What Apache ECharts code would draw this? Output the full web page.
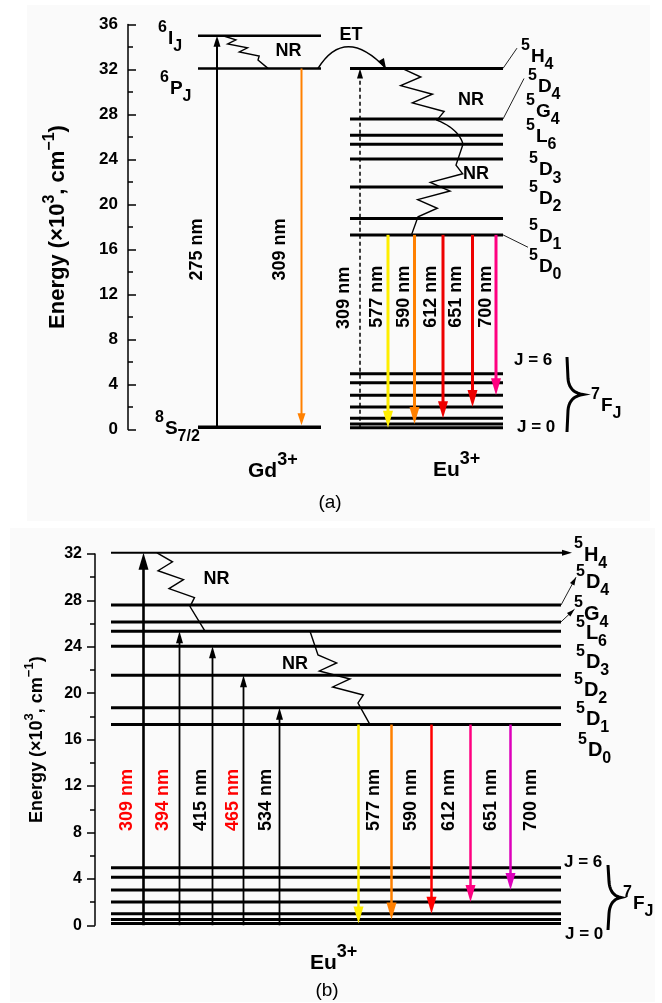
<!DOCTYPE html>
<html><head><meta charset="utf-8">
<script src="https://cdn.jsdelivr.net/npm/echarts@6/dist/echarts.min.js"></script>
<style>html,body{margin:0;padding:0;background:#fff}#c{width:662px;height:1003px}</style>
</head><body><div id="c"></div>
<script>
// ================= DATA (energies in 10^3 cm^-1) =================
const gdLevelNames = ['8S7/2', '6PJ', '6IJ'];
const gdLevels = [0.2, 32.1, 35.0];
const euUpperNames = ['5D0', '5D1', '5D2', '5D3', '5L6', '5G4', '5D4', '5H4'];
const euUpperLevels = [17.3, 18.75, 21.55, 24.05, 25.35, 26.15, 27.6, 32.1];
const euGroundNames = ['7F0', '7F1', '7F2', '7F3', '7F4', '7F5', '7F6'];
const euGroundLevels = [0.15, 0.5, 1.0, 2.0, 3.05, 4.15, 4.95];
const emissionLabels = ['577 nm', '590 nm', '612 nm', '651 nm', '700 nm'];
const emissionFinal = [0, 1, 2, 3, 4];            // index into euGroundLevels (from 5D0)
const gdExcitationLabel = '275 nm';               // 8S7/2 -> 6IJ
const gdEmissionLabel = '309 nm';                 // 6PJ -> 8S7/2
const euExcitationLabelA = '309 nm';              // 7F0 -> 5H4
const excitationLabelsB = ['309 nm', '394 nm', '415 nm', '465 nm', '534 nm'];
const excitationTargetB = [7, 4, 3, 2, 1];        // index into euUpperLevels
const excitationRedB = [true, true, false, true, false];
const axisMaxA = 36, axisMaxB = 32, tickStep = 4;

// ================= STYLE / LAYOUT =================
const FONT = '"Liberation Sans", Arial, Helvetica, sans-serif';
const colorsA = ['#ffee00', '#ff8000', '#ee0000', '#ee0000', '#ff0080'];
const colorsB = ['#ffee00', '#ff8000', '#ff0000', '#ff0080', '#dd00bb'];
const cv = document.createElement('canvas').getContext('2d');
function tw(t, size, w) { cv.font = (w || 'bold') + ' ' + size + 'px ' + FONT; return cv.measureText(t).width; }

const A = { left: 128, top: 24.5, width: 522, height: 405 };
const B = { left: 95, top: 554, width: 555, height: 371.3 };

// ---- panel A element specs ----
const specsA = [];
gdLevels.forEach((e, i) => specsA.push({ t: 'level', x0: 198, x1: 321, e, lw: i === 0 ? 3.5 : 2.5 }));
euUpperLevels.forEach(e => specsA.push({ t: 'level', x0: 350, x1: 503, e, lw: 3 }));
euGroundLevels.forEach(e => specsA.push({ t: 'level', x0: 350, x1: 503, e, lw: 3 }));
specsA.push({ t: 'arrow', x: 217, e0: gdLevels[0], e1: gdLevels[2], color: '#000', lw: 2, hw: 7, hl: 11 });
specsA.push({ t: 'arrow', x: 301.5, e0: gdLevels[1], e1: gdLevels[0], color: '#ff8000', lw: 2, hw: 8, hl: 12, pad: 2 });
specsA.push({ t: 'arrow', x: 360, e0: euGroundLevels[0], e1: euUpperLevels[7], color: '#000', lw: 1.5, hw: 6, hl: 10, dash: [4, 3] });
const emXA = [388, 414.5, 443, 472.5, 496];
emissionFinal.forEach((j, k) => specsA.push({ t: 'arrow', x: emXA[k], e0: euUpperLevels[0], e1: euGroundLevels[j], color: colorsA[k], lw: 3, hw: 10, hl: 17 }));
specsA.push({ t: 'vtext', x: 197.5, e: 16, text: gdExcitationLabel, color: '#000' });
specsA.push({ t: 'vtext', x: 280, e: 16, text: gdEmissionLabel, color: '#000' });
specsA.push({ t: 'vtext', x: 344, e: 11.7, text: euExcitationLabelA, color: '#000' });
const emLXA = [377.5, 404, 431, 456, 486.5];
emissionLabels.forEach((l, k) => specsA.push({ t: 'vtext', x: emLXA[k], e: 11.8, text: l, color: '#000' }));
specsA.push({ t: 'path', start: [223, gdLevels[2]], segs: [{ k: 'zig', to: [258, 32.84], n: 3, amp: 7 }, { k: 'line', to: [268, gdLevels[1]] }] });
specsA.push({ t: 'path', start: [402, euUpperLevels[7]], segs: [
  { k: 'zig', to: [437, 27.5], n: 3, amp: 13 },
  { k: 'curve', c: [459, 26.7], to: [463, euUpperLevels[4]] },
  { k: 'line', to: [456, 23.5] },
  { k: 'zig', to: [418, 18.9], n: 3, amp: 13 },
  { k: 'line', to: [411.5, euUpperLevels[0]] }] });
specsA.push({ t: 'curve', p0: [318, gdLevels[1]], c: [345, 35.96], p1: [386, euUpperLevels[7]], hw: 7, hl: 10 });
specsA.push({ t: 'seg', p0: [503, euUpperLevels[7]], p1: [517, 33.9] });
specsA.push({ t: 'seg', p0: [503, euUpperLevels[6]], p1: [524, 31.2] });
specsA.push({ t: 'seg', p0: [503, euUpperLevels[0]], p1: [528, 16.2] });

// ---- panel B element specs ----
const specsB = [];
euUpperLevels.forEach((e, i) => specsB.push(i === 7
  ? { t: 'level', x0: 111, x1: 572, e, lw: 2, head: true }
  : { t: 'level', x0: 111, x1: 561, e, lw: 3 }));
euGroundLevels.forEach(e => specsB.push({ t: 'level', x0: 111, x1: 561, e, lw: 3 }));
const exXB = [143.5, 179.5, 212.5, 243.5, 279.5];
excitationTargetB.forEach((ti, k) => specsB.push({ t: 'arrow', x: exXB[k], e0: 0, e1: euUpperLevels[ti], color: '#000', lw: k === 0 ? 2.6 : 1.8, hw: k === 0 ? 10 : 7, hl: k === 0 ? 17 : 12 }));
const emXB = [358.5, 391.5, 431.5, 470.5, 510.5];
emissionFinal.forEach((j, k) => specsB.push({ t: 'arrow', x: emXB[k], e0: euUpperLevels[0], e1: euGroundLevels[j], color: colorsB[k], lw: 2.5, hw: 10, hl: 17 }));
const exLXB = [127, 163.5, 201, 233.5, 266.5];
excitationLabelsB.forEach((l, k) => specsB.push({ t: 'vtext', x: exLXB[k], e: 10.8, text: l, color: excitationRedB[k] ? '#ff0000' : '#000' }));
const emLXB = [374, 411, 449, 491, 531];
emissionLabels.forEach((l, k) => specsB.push({ t: 'vtext', x: emLXB[k], e: 10.8, text: l, color: '#000' }));
specsB.push({ t: 'path', start: [157, euUpperLevels[7]], segs: [{ k: 'zig', to: [190, 27.47], n: 3, amp: 10 }, { k: 'line', to: [205, euUpperLevels[4]] }] });
specsB.push({ t: 'path', start: [310, euUpperLevels[4]], segs: [{ k: 'line', to: [318, 23.3] }, { k: 'zig', to: [358, 19.16], n: 3, amp: 12 }, { k: 'line', to: [370, euUpperLevels[0]] }] });
specsB.push({ t: 'seg', p0: [561, euUpperLevels[6]], p1: [576, 30.0], head: true });
specsB.push({ t: 'seg', p0: [561, euUpperLevels[5]], p1: [574.5, 27.24], head: true });

function head(tip, dir, w, h, color) {
  const px = -dir[1], py = dir[0];
  const bx = tip[0] - dir[0] * h, by = tip[1] - dir[1] * h;
  return { type: 'polygon', shape: { points: [[tip[0], tip[1]], [bx + px * w / 2, by + py * w / 2], [bx - px * w / 2, by - py * w / 2]] }, style: { fill: color, stroke: null } };
}
function norm(v) { const l = Math.hypot(v[0], v[1]); return [v[0] / l, v[1] / l]; }

function makeRender(specs) {
  return function (params, api) {
    const s = specs[params.dataIndex];
    const P = (x, e) => api.coord([x, e]);
    const ch = [];
    if (s.t === 'level') {
      const a = P(s.x0, s.e), b = P(s.x1, s.e);
      ch.push({ type: 'line', shape: { x1: a[0], y1: a[1], x2: s.head ? b[0] - 6 : b[0], y2: b[1] }, style: { stroke: '#000', lineWidth: s.lw } });
      if (s.head) ch.push(head(b, [1, 0], 6, 10, '#000'));
    } else if (s.t === 'arrow') {
      const a = P(s.x, s.e0), b = P(s.x, s.e1);
      if (s.pad) b[1] -= s.pad;
      const d = b[1] > a[1] ? 1 : -1;
      ch.push({ type: 'line', shape: { x1: a[0], y1: a[1], x2: b[0], y2: b[1] - d * (s.hl - 2) }, style: { stroke: s.color, lineWidth: s.lw, lineDash: s.dash || null } });
      ch.push(head(b, [0, d], s.hw, s.hl, s.color));
    } else if (s.t === 'vtext') {
      const p = P(s.x, s.e);
      ch.push({ type: 'text', x: p[0], y: p[1], rotation: Math.PI / 2, style: { text: s.text, font: 'bold 18px ' + FONT, fill: s.color, align: 'center', verticalAlign: 'middle', textAlign: 'center', textVerticalAlign: 'middle' } });
    } else if (s.t === 'path') {
      let cur = P(s.start[0], s.start[1]);
      const pts = [cur];
      s.segs.forEach(g => {
        const to = P(g.to[0], g.to[1]);
        if (g.k === 'zig') {
          for (let i = 1; i < 2 * g.n; i++) {
            const t = i / (2 * g.n), off = (i % 2 ? 1 : -1) * g.amp;
            pts.push([cur[0] + (to[0] - cur[0]) * t + off, cur[1] + (to[1] - cur[1]) * t]);
          }
          pts.push(to);
        } else if (g.k === 'curve') {
          const c = P(g.c[0], g.c[1]);
          for (let j = 1; j <= 12; j++) {
            const t = j / 12;
            pts.push([(1 - t) * (1 - t) * cur[0] + 2 * (1 - t) * t * c[0] + t * t * to[0], (1 - t) * (1 - t) * cur[1] + 2 * (1 - t) * t * c[1] + t * t * to[1]]);
          }
        } else pts.push(to);
        cur = to;
      });
      ch.push({ type: 'polyline', shape: { points: pts }, style: { stroke: '#000', lineWidth: 1.4, fill: null } });
    } else if (s.t === 'curve') {
      const p0 = P(s.p0[0], s.p0[1]), c = P(s.c[0], s.c[1]), p1 = P(s.p1[0], s.p1[1]);
      ch.push({ type: 'bezierCurve', shape: { x1: p0[0], y1: p0[1], cpx1: c[0], cpy1: c[1], x2: p1[0], y2: p1[1] }, style: { stroke: '#000', lineWidth: 1.5, fill: null } });
      ch.push(head(p1, norm([p1[0] - c[0], (p1[1] - c[1]) * 1.6]), s.hw, s.hl, '#000'));
    } else if (s.t === 'seg') {
      const a = P(s.p0[0], s.p0[1]), b = P(s.p1[0], s.p1[1]);
      ch.push({ type: 'line', shape: { x1: a[0], y1: a[1], x2: b[0], y2: b[1] }, style: { stroke: '#222', lineWidth: 1 } });
      if (s.head) ch.push(head(b, norm([b[0] - a[0], b[1] - a[1]]), 5, 8, '#000'));
    }
    return { type: 'group', children: ch };
  };
}

// ---- text annotations (graphic) ----
const G = [];
G.push({ type: 'rect', shape: { x: 27, y: 5, width: 623, height: 516 }, style: { fill: '#fafafa' }, z: -10 });
G.push({ type: 'rect', shape: { x: 10, y: 528, width: 645, height: 474 }, style: { fill: '#fafafa' }, z: -10 });
function txt(x, y, text, size, opts) {
  opts = opts || {};
  return { type: 'text', x, y, z: 10, style: { text, font: (opts.w || 'bold') + ' ' + size + 'px ' + FONT, fill: opts.c || '#000', align: opts.a || 'left', verticalAlign: 'middle', textAlign: opts.a || 'left', textVerticalAlign: 'middle' } };
}
function term(x, yc, sup, main, sub, fm, fs) {
  fm = fm || 19; fs = fs || 16;
  const ws = tw(sup, fs), wm = tw(main, fm);
  G.push(txt(x, yc - 11, sup, fs));
  G.push(txt(x + ws + 1, yc, main, fm));
  G.push(txt(x + ws + 1 + wm, yc + 8.5, sub, fs));
}
function nameParts(n) { return [n[0], n[1], n.slice(2)]; }
// Gd terms (panel a), same order as gdLevelNames
const gdLab = [[155, 428.5], [160, 88.5], [158, 38.5]];
gdLevelNames.forEach((nm, i) => { const [su, m, sb] = nameParts(nm); term(gdLab[i][0], gdLab[i][1], su, m, sb); });
// Eu terms (panel a)
const euLabA = [[529, 266.5], [529, 236.5], [529, 198.5], [529, 170], [526, 136.5], [526, 111.5], [528, 86.5], [521, 56.5]];
euUpperNames.forEach((nm, i) => { const [su, m, sb] = nameParts(nm); term(euLabA[i][0], euLabA[i][1], su, m, sb); });
const euLabB = [[578, 750.5], [576, 719.5], [574, 690.5], [576, 662.5], [576, 633.5], [574, 614], [576, 582.5], [574, 555]];
euUpperNames.forEach((nm, i) => { const [su, m, sb] = nameParts(nm); term(euLabB[i][0], euLabB[i][1], su, m, sb, 20, 16); });
term(591, 405.5, '7', 'F', 'J');
term(623, 903.5, '7', 'F', 'J');
G.push(txt(514, 360, 'J = 6', 17), txt(517, 427, 'J = 0', 17));
G.push(txt(564, 862, 'J = 6', 17), txt(565, 934, 'J = 0', 17));
// braces as polylines
function brace(x, yTop, yBot, tipX) {
  const ym = (yTop + yBot) / 2, pts = [];
  const q = (p0, c, p1, n) => { for (let j = 0; j <= n; j++) { const t = j / n; pts.push([(1 - t) * (1 - t) * p0[0] + 2 * (1 - t) * t * c[0] + t * t * p1[0], (1 - t) * (1 - t) * p0[1] + 2 * (1 - t) * t * c[1] + t * t * p1[1]]); } };
  pts.push([x, yTop]);
  q([x + 1, ym - 16], [x + 2, ym - 2], [tipX, ym], 10);
  q([tipX, ym], [x + 2, ym + 2], [x + 1, ym + 16], 10);
  pts.push([x, yBot]);
  return { type: 'polyline', z: 10, shape: { points: pts }, style: { stroke: '#000', lineWidth: 3, fill: null } };
}
G.push(brace(567, 357, 432, 583));
G.push(brace(608, 865, 930, 621));
// NR / ET
G.push(txt(288.5, 51, 'NR', 18, { a: 'center' }), txt(471, 100, 'NR', 18, { a: 'center' }), txt(476, 174.5, 'NR', 18, { a: 'center' }));
G.push(txt(216.5, 579, 'NR', 18, { a: 'center' }), txt(295, 664, 'NR', 18, { a: 'center' }));
G.push(txt(351, 35, 'ET', 18, { a: 'center' }));
// ion labels
function ion(x, y, base, size) { const w = tw(base, size); G.push(txt(x, y, base, size)); G.push(txt(x + w, y - 11, '3+', 18)); }
ion(248, 471.5, 'Gd', 21); ion(433, 470, 'Eu', 21); ion(310, 963.5, 'Eu', 21);
G.push(txt(330, 503, '(a)', 19, { w: 'normal', a: 'center' }), txt(327, 991, '(b)', 19, { w: 'normal', a: 'center' }));

const yName = '{a|Energy (×10}{s|3}{a|, cm}{s|−1}{a|)}';
function yAxisCfg(gi, max, inside, fs, nameSize, gap) {
  return {
    gridIndex: gi, type: 'value', min: 0, max, interval: tickStep, position: 'left',
    axisLine: { show: true, lineStyle: { color: '#000', width: 1.5 } },
    axisTick: { show: true, inside, length: 8, lineStyle: { color: '#000', width: 1.5 } },
    minorTick: { show: true, splitNumber: 2, length: 5, lineStyle: { color: '#000', width: 1.5 } },
    axisLabel: { fontSize: fs, fontWeight: 'bold', color: '#000', fontFamily: FONT, margin: inside ? 10 : 13 },
    splitLine: { show: false },
    name: yName, nameLocation: 'middle', nameRotate: 90, nameGap: gap,
    nameTextStyle: { rich: {
      a: { fontSize: nameSize, fontWeight: 'bold', fontFamily: FONT, color: '#000', lineHeight: nameSize + 10 },
      s: { fontSize: Math.round(nameSize * 0.72), fontWeight: 'bold', fontFamily: FONT, color: '#000', verticalAlign: 'top', lineHeight: Math.round(nameSize * 0.72) }
    } }
  };
}

const chart = echarts.init(document.getElementById('c'), null, { renderer: 'canvas' });
chart.setOption({
  animation: false,
  backgroundColor: '#ffffff',
  grid: [
    Object.assign({ containLabel: false, outerBoundsMode: 'none' }, A),
    Object.assign({ containLabel: false, outerBoundsMode: 'none' }, B)
  ],
  xAxis: [
    { gridIndex: 0, type: 'value', min: A.left, max: A.left + A.width, show: false },
    { gridIndex: 1, type: 'value', min: B.left, max: B.left + B.width, show: false }
  ],
  yAxis: [yAxisCfg(0, axisMaxA, true, 17, 22, 54), yAxisCfg(1, axisMaxB, false, 16, 18, 44)],
  graphic: { elements: G },
  series: [
    { type: 'custom', xAxisIndex: 0, yAxisIndex: 0, clip: false, renderItem: makeRender(specsA), data: specsA.map(() => [A.left, 0]) },
    { type: 'custom', xAxisIndex: 1, yAxisIndex: 1, clip: false, renderItem: makeRender(specsB), data: specsB.map(() => [B.left, 0]) }
  ]
});
</script></body></html>
